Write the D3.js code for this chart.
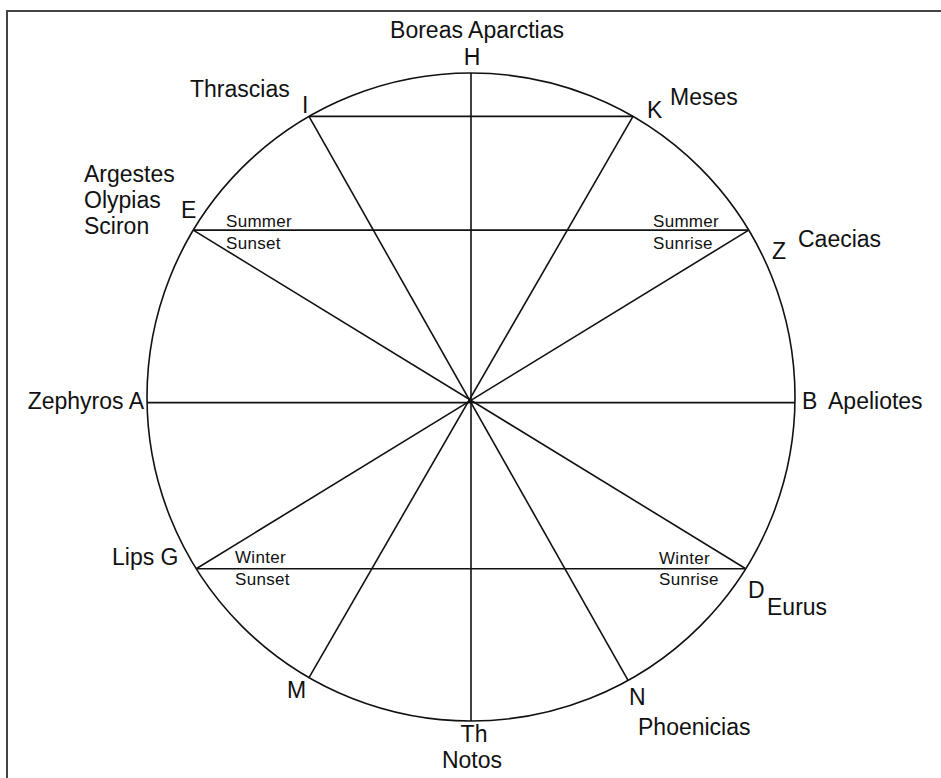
<!DOCTYPE html>
<html>
<head>
<meta charset="utf-8">
<script src="https://cdn.jsdelivr.net/npm/d3@7"></script>
<style>
  html, body { margin: 0; padding: 0; background: #fff; }
  svg { display: block; }
  text { font-family: "Liberation Sans", Arial, sans-serif; fill: #111; }
</style>
</head>
<body>
<svg id="chart" width="941" height="778"></svg>
<script>
// ---- data ----
const pointNames  = ["B", "Z", "K", "H", "I", "E", "A", "G", "M", "Th", "N", "D"];
const pointAngles = [359, 31, 60, 90, 120, 149, 181, 212, 240, 270, 299, 328];
const diameters = [["H", "Th"], ["A", "B"], ["I", "N"], ["K", "M"], ["E", "D"], ["Z", "G"]];
const chords = [["I", "K"], ["E", "Z"], ["G", "D"]];
const windNames = ["Boreas Aparctias", "Thrascias", "Meses", "Argestes", "Olypias", "Sciron",
                   "Caecias", "Zephyros", "Apeliotes", "Lips", "Eurus", "Phoenicias", "Notos"];
const solarLabels = ["Summer", "Sunset", "Summer", "Sunrise", "Winter", "Sunset", "Winter", "Sunrise"];

// ---- layout ----
const cx = 471, cy = 397, R = 324;
const svg = d3.select("#chart");
const x = d3.scaleLinear().domain([-1, 1]).range([cx - R, cx + R]);
const y = d3.scaleLinear().domain([-1, 1]).range([cy + R, cy - R]);
const rad = d3.scaleLinear().domain([0, 360]).range([0, 2 * Math.PI]);

const pts = {};
pointNames.forEach((n, i) => {
  const a = rad(pointAngles[i]);
  pts[n] = { x: x(Math.cos(a)), y: y(Math.sin(a)) };
});

// frame (top and left edges)
svg.append("path")
  .attr("d", "M7,778 L7,11 L941,11")
  .attr("fill", "none").attr("stroke", "#444").attr("stroke-width", 2);

// circle
svg.append("circle")
  .attr("cx", x(0)).attr("cy", y(0)).attr("r", x(1) - x(0))
  .attr("fill", "none").attr("stroke", "#111").attr("stroke-width", 1.6);

// diameters and chords
const segs = diameters.concat(chords);
svg.append("g").selectAll("line").data(segs).join("line")
  .attr("x1", d => pts[d[0]].x).attr("y1", d => pts[d[0]].y)
  .attr("x2", d => pts[d[1]].x).attr("y2", d => pts[d[1]].y)
  .attr("stroke", "#111").attr("stroke-width", 1.6);

// big labels: [text, x, y, anchor]
const bigPos = [
  [windNames[0], 477, 38, "middle"],
  ["H", 472, 65, "middle"],
  [windNames[1], 190, 97, "start"],
  ["I", 302, 113, "start"],
  ["K", 647, 118, "start"],
  [windNames[2], 670, 105, "start"],
  [windNames[3], 84, 182, "start"],
  [windNames[4], 84, 208, "start"],
  [windNames[5], 84, 234, "start"],
  ["E", 181, 218, "start"],
  ["Z", 772, 259, "start"],
  [windNames[6], 798, 247, "start"],
  [windNames[7] + " A", 144, 409, "end"],
  ["B", 802, 409, "start"],
  [windNames[8], 828, 409, "start"],
  [windNames[9] + " G", 112, 565, "start"],
  ["D", 748, 598, "start"],
  [windNames[10], 767, 615, "start"],
  ["M", 287, 698, "start"],
  ["N", 629, 705, "start"],
  [windNames[11], 638, 735, "start"],
  ["Th", 474, 742, "middle"],
  [windNames[12], 472, 768, "middle"]
];
svg.append("g").selectAll("text").data(bigPos).join("text")
  .attr("x", d => d[1]).attr("y", d => d[2])
  .attr("text-anchor", d => d[3])
  .style("font-size", "23px")
  .text(d => d[0]);

// small labels
const smallPos = [[226, 227], [226, 249], [653, 227], [653, 249],
                  [235, 563], [235, 585], [659, 564], [659, 585]];
svg.append("g").selectAll("text").data(solarLabels).join("text")
  .attr("x", (d, i) => smallPos[i][0]).attr("y", (d, i) => smallPos[i][1])
  .style("font-size", "17px").style("letter-spacing", "0.3px")
  .text(d => d);
</script>
</body>
</html>
